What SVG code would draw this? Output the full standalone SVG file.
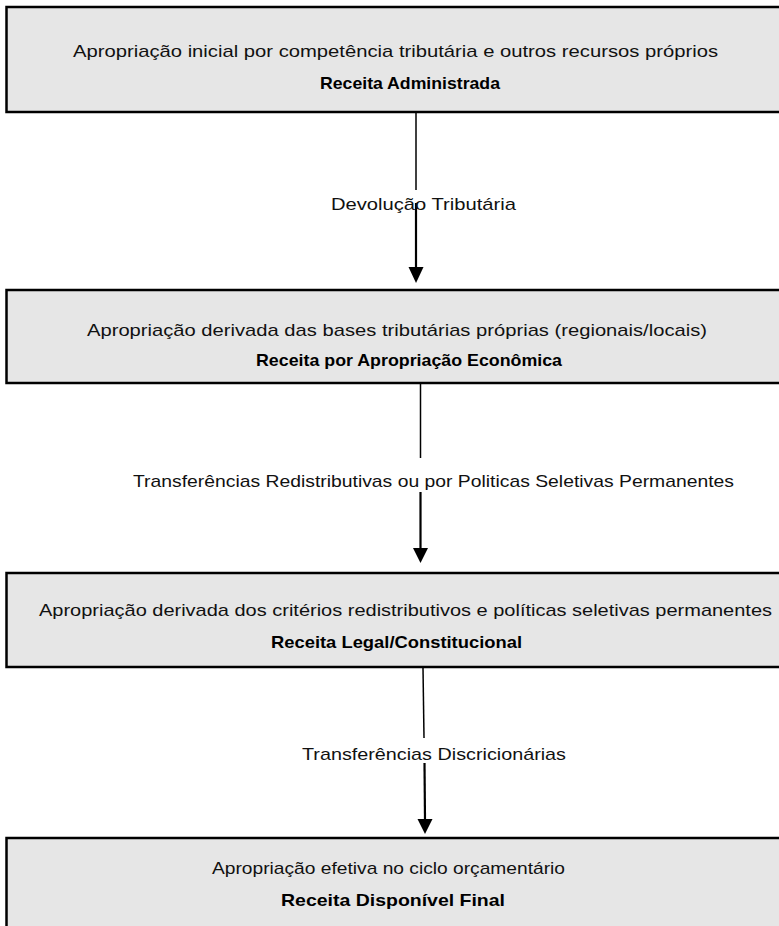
<svg xmlns="http://www.w3.org/2000/svg" width="779" height="926" viewBox="0 0 779 926">
<style>
.box{fill:#e6e6e6;stroke:#000;stroke-width:2.5}
.t{font-family:"Liberation Sans",Arial,sans-serif;font-size:17px;fill:#111}
.b{font-family:"Liberation Sans",Arial,sans-serif;font-size:17px;font-weight:bold;fill:#000}
.l{fill:none;stroke:#000}
.thin{stroke-width:1.5}
.thick{stroke-width:2.2}
.head{fill:#000}
</style>
<rect width="779" height="926" fill="#fff"/>
<g id="node1">
<rect class="box" x="6.5" y="7" width="790" height="105"/>
<text class="t" x="73" y="57" textLength="645" lengthAdjust="spacingAndGlyphs">Apropriação inicial por competência tributária e outros recursos próprios</text>
<text class="b" x="320" y="89" textLength="180" lengthAdjust="spacingAndGlyphs">Receita Administrada</text>
</g>
<g id="node2">
<rect class="box" x="6.5" y="290" width="790" height="93"/>
<text class="t" x="87" y="336" textLength="620" lengthAdjust="spacingAndGlyphs">Apropriação derivada das bases tributárias próprias (regionais/locais)</text>
<text class="b" x="256" y="366" textLength="306" lengthAdjust="spacingAndGlyphs">Receita por Apropriação Econômica</text>
</g>
<g id="node3">
<rect class="box" x="6.5" y="573" width="790" height="94"/>
<text class="t" x="39" y="616" textLength="733" lengthAdjust="spacingAndGlyphs">Apropriação derivada dos critérios redistributivos e políticas seletivas permanentes</text>
<text class="b" x="271" y="648" textLength="251" lengthAdjust="spacingAndGlyphs">Receita Legal/Constitucional</text>
</g>
<g id="node4">
<rect class="box" x="6.5" y="838" width="790" height="120"/>
<text class="t" x="212" y="874" textLength="353" lengthAdjust="spacingAndGlyphs">Apropriação efetiva no ciclo orçamentário</text>
<text class="b" x="281" y="906" textLength="224" lengthAdjust="spacingAndGlyphs">Receita Disponível Final</text>
</g>
<g id="connectors">
<line class="l thin" x1="416" y1="113" x2="416" y2="190"/>
<line class="l thick" x1="416" y1="203" x2="416" y2="268"/>
<polygon class="head" points="408.5,267 423.5,267 416,283"/>
<text class="t" x="331" y="210" textLength="185" lengthAdjust="spacingAndGlyphs">Devolução Tributária</text>
<line class="l thin" x1="420.5" y1="384" x2="420.5" y2="458"/>
<line class="l thick" x1="420.5" y1="492" x2="420.5" y2="549"/>
<polygon class="head" points="413,548 428,548 420.5,563"/>
<text class="t" x="133" y="487" textLength="601" lengthAdjust="spacingAndGlyphs">Transferências Redistributivas ou por Politicas Seletivas Permanentes</text>
<line class="l thin" x1="423" y1="668" x2="424" y2="738"/>
<line class="l thick" x1="424.5" y1="763" x2="425" y2="820"/>
<polygon class="head" points="417.5,819 432.5,819 425,834"/>
<text class="t" x="302" y="760" textLength="264" lengthAdjust="spacingAndGlyphs">Transferências Discricionárias</text>
</g>
</svg>
